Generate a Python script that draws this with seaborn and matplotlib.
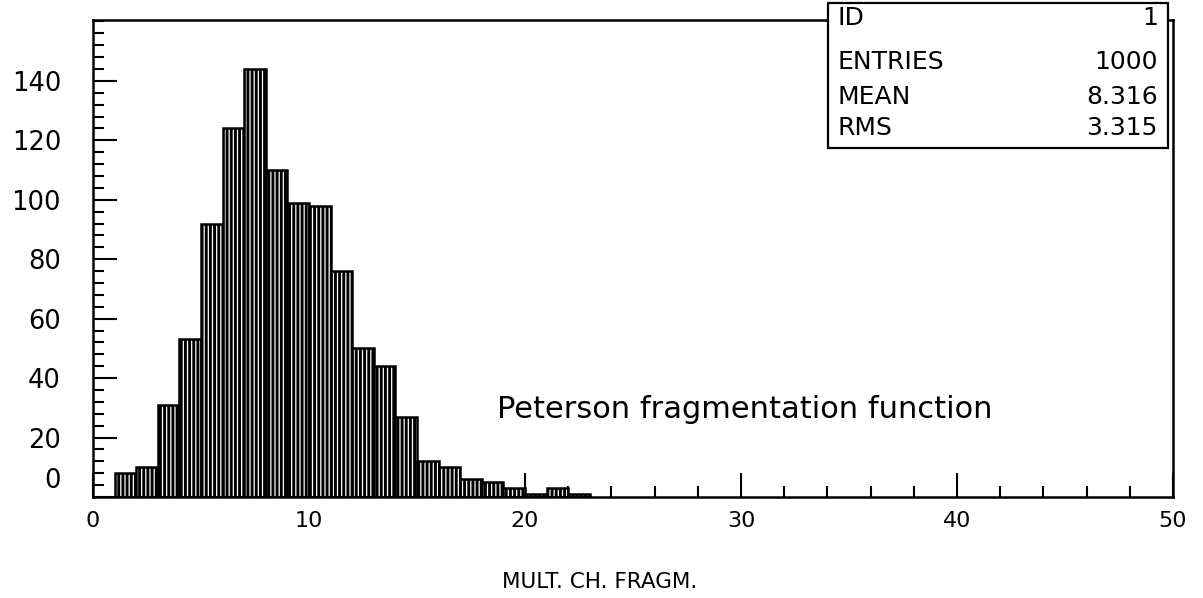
import numpy as np
import pandas as pd
import matplotlib
matplotlib.use("Agg")
import matplotlib.pyplot as plt
import matplotlib.transforms as mtransforms
from matplotlib.patches import Rectangle
from matplotlib.ticker import MultipleLocator
import seaborn as sns

# Charged-fragment multiplicity histogram (integer multiplicities, unit bins)
multiplicity = list(range(1, 23))
counts = [8, 10, 31, 53, 92, 124, 144, 110, 99, 98, 76,
          50, 44, 27, 12, 10, 6, 5, 3, 1, 3, 1]

x_ticks = [0, 10, 20, 30, 40, 50]
y_ticks = [0, 20, 40, 60, 80, 100, 120, 140]

stats_labels = ["ID", "ENTRIES", "MEAN", "RMS"]
stats_values = ["1", "1000", "8.316", "3.315"]

annotation = "Peterson fragmentation function"
x_title = "MULT. CH. FRAGM."

sns.set_style("white")
plt.rcParams["font.family"] = ["DejaVu Sans"]
plt.rcParams["text.color"] = "black"
plt.rcParams["xtick.color"] = "black"
plt.rcParams["ytick.color"] = "black"
plt.rcParams["hatch.color"] = "black"
plt.rcParams["hatch.linewidth"] = 2.1

W, H = 1203, 598
fig = plt.figure(figsize=(W / 100, H / 100), dpi=100)
ax = fig.add_axes([93 / W, 1 - 497 / H, (1173 - 93) / W, (497 - 20) / H])

df = pd.DataFrame({"mult": multiplicity, "count": counts})
sns.histplot(data=df, x="mult", weights="count",
             binwidth=1, binrange=(1, 23), ax=ax,
             color="white", edgecolor="black", linewidth=1.8,
             hatch="||||", alpha=1)

ax.set_xlim(0, 50)
ax.set_ylim(0, 160.5)
ax.set_xticks(x_ticks)
ax.set_yticks(y_ticks)
ax.xaxis.set_minor_locator(MultipleLocator(2))
ax.yaxis.set_minor_locator(MultipleLocator(4))
ax.set_xlabel("")
ax.set_ylabel("")

for s in ax.spines.values():
    s.set_visible(True)
    s.set_color("black")
    s.set_linewidth(1.8)

ax.tick_params(which="major", direction="in", length=17, width=1.5,
               color="black", top=False, right=False, left=True, bottom=True)
ax.tick_params(which="minor", direction="in", length=8, width=1.5,
               color="black", top=False, right=False, left=True, bottom=True)
ax.tick_params(axis="y", labelsize=18.5, pad=23, labelcolor="black")
ax.tick_params(axis="x", labelsize=16, pad=10, labelcolor="black")

# the zero label on the count axis sits a little above the baseline
zero_tick = ax.yaxis.get_major_ticks()[0]
zero_tick.label1.set_transform(
    zero_tick.label1.get_transform()
    + mtransforms.ScaledTranslation(0, 19 / 100, fig.dpi_scale_trans))

ax.text(18.7, 29.3, annotation, fontsize=22, ha="left", va="center")

fig.text(600 / W, 1 - 582 / H, x_title, fontsize=15.5, ha="center", va="center")

# statistics box in the upper-right corner
bx0, bx1, by0, by1 = 828, 1168, 3, 148
fig.add_artist(Rectangle((bx0 / W, 1 - by1 / H), (bx1 - bx0) / W, (by1 - by0) / H,
                         transform=fig.transFigure, facecolor="white",
                         edgecolor="black", linewidth=1.6, zorder=5))
row_y = [18, 62, 97, 128]
for lab, val, yy in zip(stats_labels, stats_values, row_y):
    fig.text(838 / W, 1 - yy / H, lab, fontsize=18, ha="left", va="center", zorder=6)
    fig.text(1158 / W, 1 - yy / H, val, fontsize=18, ha="right", va="center", zorder=6)

fig.savefig("out.png", dpi=100)
